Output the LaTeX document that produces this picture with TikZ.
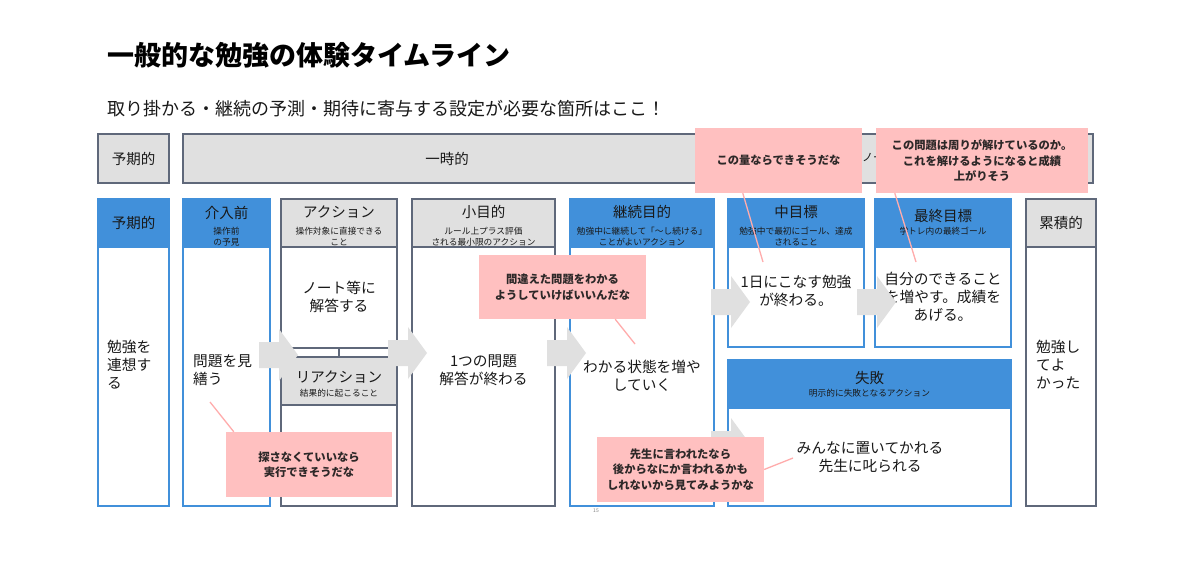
\documentclass[tikz,border=0pt]{standalone}
\usepackage{fontspec}
\setmainfont{Noto Sans CJK JP}
\definecolor{cblue}{RGB}{65,144,218}
\definecolor{cgray}{RGB}{224,224,224}
\definecolor{cgrayb}{RGB}{95,104,122}
\definecolor{cpink}{RGB}{255,192,192}
\definecolor{cpinkl}{RGB}{255,172,172}
\definecolor{ctext}{RGB}{25,25,25}
\definecolor{ccall}{RGB}{45,40,40}
\tikzset{
  bluebody/.style={draw=cblue, line width=1.8pt, fill=white},
  bluehead/.style={draw=cblue, line width=1.8pt, fill=cblue},
  graybody/.style={draw=cgrayb, line width=1.3pt, fill=white},
  grayhead/.style={draw=cgrayb, line width=1.3pt, fill=cgray},
  hmain/.style={inner sep=0pt, text=ctext, font=\fontsize{14.5}{16}\selectfont},
  hsub/.style={inner sep=0pt, text=ctext, align=center, font=\fontsize{8.7}{10.5}\selectfont},
  bodytxt/.style={inner sep=0pt, text=ctext, align=center, font=\fontsize{14.7}{18}\selectfont},
  bodyleft/.style={inner sep=0pt, text=ctext, align=left, anchor=west, font=\fontsize{14.7}{18}\selectfont},
  callout/.style={fill=cpink, inner sep=0pt, align=center, text=ccall, font=\bfseries\fontsize{11.3}{15.5}\selectfont},
  pinkline/.style={draw=cpinkl, line width=1.3pt},
  garrow/.pic={\fill[cgray] (0,-13) -- (20,-13) -- (20,-26) -- (39,0) -- (20,26) -- (20,13) -- (0,13) -- cycle;}
}
\begin{document}
\begin{tikzpicture}[x=1pt,y=-1pt]
\useasboundingbox[fill=white] (0,0) rectangle (1200,584);

% title
\node[anchor=west, inner sep=0pt, text=black, font=\bfseries\fontsize{27}{30}\selectfont] (title) at (107,55) {一般的な勉強の体験タイムライン};
\node[anchor=west, inner sep=0pt, text=ctext, font=\fontsize{18}{22}\selectfont] (subtitle) at (107,109) {取り掛かる・継続の予測・期待に寄与する設定が必要な箇所はここ！};

% top row
\draw[grayhead] (98,134) rectangle (169,183);
\node[hmain] (t1) at (133.5,158.5) {予期的};
\draw[grayhead] (183,134) rectangle (1093,183);
\node[hmain] (t2) at (447,158.5) {一時的};
\node[inner sep=0pt, anchor=west, text=ctext, font=\fontsize{11}{13}\selectfont] (t3) at (862,157) {ノー};

% column 1
\draw[bluebody] (98,199) rectangle (169,506);
\draw[bluehead] (98,199) rectangle (169,247);
\node[hmain] (h1) at (133.5,223) {予期的};
\node[bodyleft] (b1) at (107,365) {勉強を\\連想す\\る};

% column 2
\draw[bluebody] (183,199) rectangle (270,506);
\draw[bluehead] (183,199) rectangle (270,247);
\node[hmain] (h2) at (226.5,213) {介入前};
\node[hsub] (h2s) at (226.5,236.5) {操作前\\の予見};
\node[bodyleft] (b2) at (193,370) {問題を見\\繕う};

% column 3 action / reaction
\draw[graybody] (281,199) rectangle (397,506);
\draw[grayhead] (281,199) rectangle (397,247);
\node[hmain] (h3) at (339,212) {アクション};
\node[hsub] (h3s) at (339,236.5) {操作対象に直接できる\\こと};
\node[bodytxt] (b3) at (339,297) {ノート等に\\解答する};
\draw[draw=cgrayb, line width=1.3pt] (281,348) -- (397,348);
\draw[grayhead] (281,357) rectangle (397,405);
\coordinate (act) at (339,348);
\coordinate (react) at (339,357);
\draw[draw=cgrayb, line width=2pt] (act) -- (react);
\node[hmain] (h3r) at (339,377) {リアクション};
\node[hsub] (h3rs) at (339,393) {結果的に起こること};

% column 4
\draw[graybody] (412,199) rectangle (555,506);
\draw[grayhead] (412,199) rectangle (555,247);
\node[hmain] (h4) at (483.5,212) {小目的};
\node[hsub] (h4s) at (483.5,236.5) {ルール上プラス評価\\される最小限のアクション};
\node[bodytxt] (b4) at (483.5,370) {1つの問題\\解答が終わる};

% column 5
\draw[bluebody] (570,199) rectangle (714,506);
\draw[bluehead] (570,199) rectangle (714,247);
\node[hmain] (h5) at (642,212) {継続目的};
\node[hsub] (h5s) at (642,236.5) {勉強中に継続して「〜し続ける」\\ことがよいアクション};
\node[bodytxt] (b5) at (642,376) {わかる状態を増や\\していく};

% column 6
\draw[bluebody] (728,199) rectangle (864,347);
\draw[bluehead] (728,199) rectangle (864,247);
\node[hmain] (h6) at (796,212) {中目標};
\node[hsub] (h6s) at (796,236.5) {勉強中で最初にゴール、達成\\されること};
\node[bodytxt] (b6) at (796,291) {1日にこなす勉強\\が終わる。};

% column 7
\draw[bluebody] (875,199) rectangle (1011,347);
\draw[bluehead] (875,199) rectangle (1011,247);
\node[hmain] (h7) at (943,216) {最終目標};
\node[hsub] (h7s) at (943,231) {学トレ内の最終ゴール};
\node[bodytxt] (b7) at (943,297) {自分のできること\\を増やす。成績を\\あげる。};

% failure
\draw[bluebody] (728,360) rectangle (1011,506);
\draw[bluehead] (728,360) rectangle (1011,408);
\node[hmain] (h8) at (869.5,378) {失敗};
\node[hsub] (h8s) at (869.5,393) {明示的に失敗となるアクション};
\node[bodytxt] (b8) at (870,457) {みんなに置いてかれる\\先生に叱られる};

% column 9
\draw[graybody] (1026,199) rectangle (1096,506);
\draw[grayhead] (1026,199) rectangle (1096,247);
\node[hmain] (h9) at (1061,223) {累積的};
\node[bodyleft] (b9) at (1036,365) {勉強し\\てよ\\かった};

\node[inner sep=0pt, text=gray, font=\fontsize{5}{6}\selectfont] (pg) at (596,511) {15};

% arrows
\pic at (259,355) {garrow};
\pic at (388,353) {garrow};
\pic at (547,353) {garrow};
\pic at (711,302) {garrow};
\pic at (857,302) {garrow};
\pic at (711,444) {garrow};

% callout pointers
\coordinate (p1) at (210,402);
\coordinate (p2) at (635,344);
\coordinate (p3) at (763,262);
\coordinate (p4) at (916,262);
\coordinate (p5) at (793,458);

\node[callout, minimum width=166, minimum height=65] (c1) at (309,464.5) {探さなくていいなら\\実行できそうだな};
\node[callout, minimum width=167, minimum height=64] (c2) at (562.5,287) {間違えた問題をわかる\\ようしていけばいいんだな};
\node[callout, minimum width=167, minimum height=65] (c3) at (778.5,160.5) {この量ならできそうだな};
\node[callout, minimum width=212, minimum height=65] (c4) at (982,160.5) {この問題は周りが解けているのか。\\これを解けるようになると成績\\上がりそう};
\node[callout, minimum width=167, minimum height=65] (c5) at (680.5,469.5) {先生に言われたなら\\後からなにか言われるかも\\しれないから見てみようかな};

\draw[pinkline] ([xshift=8pt]c1.north west) -- (p1);
\draw[pinkline] ([xshift=-31pt]c2.south east) -- (p2);
\draw[pinkline] ([xshift=48pt]c3.south west) -- (p3);
\draw[pinkline] ([xshift=19pt]c4.south west) -- (p4);
\draw[pinkline] (c5.east) -- (p5);
\end{tikzpicture}
\end{document}
